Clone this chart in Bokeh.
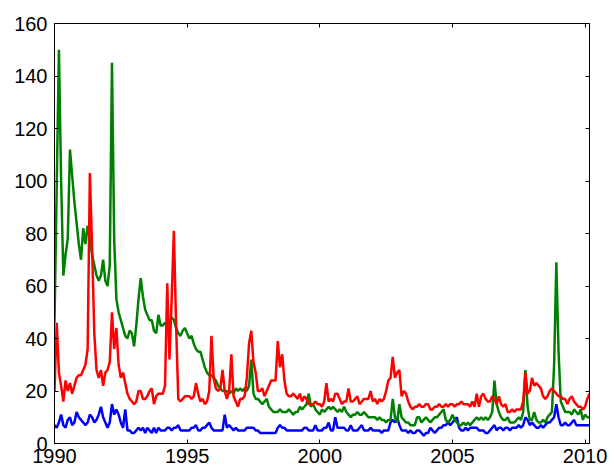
import numpy as np
import pandas as pd
from bokeh.plotting import figure
from bokeh.models import LinearAxis, FixedTicker, CustomJSTickFormatter, Range1d, ColumnDataSource
from bokeh.embed import file_html
from bokeh.resources import INLINE

# Monthly series, January 1990 .. March 2010
start_year = 1990
green_values = [
    46, 98, 150, 100, 64, 72, 78, 112, 102, 92, 84, 76,      # 1990
    70, 82, 76, 83, 78, 72, 68, 64, 62, 64, 70, 62,          # 1991
    60, 68, 145, 78, 55, 50, 47, 44, 41, 40, 43, 42,         # 1992
    37, 45, 55, 63, 56, 51, 49, 47, 47, 43, 42, 49,          # 1993
    45, 45, 46, 45, 46, 48, 47, 44, 42, 41, 43, 44,          # 1994
    42, 40, 41, 38, 36, 35, 35, 32, 29, 27, 26, 26,          # 1995
    25, 24, 22, 21, 20, 20, 20, 19, 20, 19, 21, 20,          # 1996
    21, 20, 21, 20, 22, 32, 19, 17, 17, 16, 15, 16,          # 1997
    17, 14, 13, 12, 12, 12, 13, 12, 12, 12, 13, 12,          # 1998
    11, 12, 12, 14, 13, 14, 15, 19, 14, 15, 13, 12,          # 1999
    11, 13, 12, 13, 14, 13, 14, 13, 12, 13, 12, 14,          # 2000
    12, 11, 10, 11, 11, 12, 11, 11, 12, 11, 10, 10,          # 2001
    10, 10, 9, 10, 9, 9, 8, 9, 9, 17, 10, 8,                 # 2002
    15, 10, 9, 8, 8, 7, 7, 7, 10, 10, 8, 9,                  # 2003
    10, 9, 8, 9, 10, 10, 11, 12, 13, 9, 8, 9,                # 2004
    11, 9, 8, 7, 7, 8, 7, 8, 7, 8, 9, 10,                    # 2005
    9, 10, 9, 10, 9, 10, 12, 24, 15, 12, 10, 9,              # 2006
    9, 10, 8, 8, 8, 9, 10, 9, 12, 28, 14, 9,                 # 2007
    9, 12, 9, 8, 8, 9, 8, 10, 11, 12, 30, 69,                # 2008
    35, 16, 14, 12, 12, 12, 11, 13, 12, 11, 13, 9,           # 2009
    11, 10, 10,                                              # 2010
]
red_values = [
    20, 46, 27, 22, 16, 24, 20, 23, 19, 22, 25, 26,          # 1990
    26, 28, 30, 36, 103, 75, 42, 28, 25, 28, 22, 27,         # 1991
    28, 31, 50, 36, 44, 30, 25, 27, 23, 19, 17, 16,          # 1992
    15, 16, 20, 20, 17, 17, 18, 20, 21, 15, 18, 19,          # 1993
    19, 19, 22, 61, 32, 55, 81, 45, 17, 16, 17, 18,          # 1994
    18, 18, 17, 18, 23, 19, 16, 17, 15, 16, 20, 41,          # 1995
    25, 21, 20, 21, 28, 20, 17, 20, 34, 18, 16, 14,          # 1996
    17, 17, 18, 25, 38, 43, 31, 27, 20, 20, 21, 18,          # 1997
    20, 22, 24, 24, 24, 39, 29, 34, 24, 19, 18, 18,          # 1998
    19, 18, 17, 19, 16, 18, 17, 15, 15, 15, 16, 15,          # 1999
    15, 14, 16, 23, 16, 17, 16, 19, 19, 17, 15, 16,          # 2000
    16, 21, 16, 16, 17, 18, 15, 16, 17, 17, 17, 20,          # 2001
    16, 17, 15, 17, 16, 17, 20, 24, 25, 33, 25, 27,          # 2002
    28, 18, 20, 19, 16, 14, 13, 14, 14, 15, 14, 14,          # 2003
    15, 15, 13, 13, 14, 14, 15, 14, 14, 15, 14, 15,          # 2004
    15, 14, 15, 15, 16, 15, 15, 15, 14, 16, 14, 19,          # 2005
    14, 18, 19, 17, 16, 16, 18, 17, 15, 18, 15, 14,          # 2006
    15, 12, 12, 13, 12, 13, 13, 13, 16, 27, 19, 20,          # 2007
    25, 22, 23, 22, 21, 18, 17, 18, 20, 21, 20, 19,          # 2008
    18, 18, 17, 17, 15, 17, 18, 16, 15, 14, 14, 13,          # 2009
    14, 17, 19,                                              # 2010
]
blue_values = [
    7, 6, 8, 11, 7, 6, 9, 10, 7, 8, 12, 10,                  # 1990
    9, 8, 7, 8, 11, 10, 8, 9, 11, 14, 10, 8,                 # 1991
    6, 8, 15, 11, 13, 11, 8, 6, 13, 5, 5, 4,                 # 1992
    4, 5, 6, 5, 6, 4, 6, 5, 4, 6, 4, 6,                      # 1993
    5, 5, 5, 6, 6, 5, 6, 6, 7, 5, 5, 5,                      # 1994
    5, 5, 6, 6, 7, 5, 5, 6, 6, 7, 8, 6,                      # 1995
    5, 5, 5, 5, 5, 11, 6, 7, 6, 5, 6, 5,                     # 1996
    5, 5, 5, 6, 6, 6, 6, 5, 5, 4, 4, 4,                      # 1997
    4, 4, 4, 4, 4, 6, 7, 6, 6, 5, 5, 5,                      # 1998
    5, 5, 5, 5, 5, 6, 6, 5, 5, 5, 7, 5,                      # 1999
    5, 5, 6, 6, 8, 5, 5, 10, 6, 6, 6, 6,                     # 2000
    5, 5, 7, 5, 5, 5, 6, 7, 5, 5, 5, 6,                      # 2001
    5, 5, 5, 5, 4, 5, 5, 5, 8, 9, 8, 10,                     # 2002
    7, 5, 5, 5, 4, 5, 4, 4, 5, 5, 4, 3,                      # 2003
    4, 4, 6, 5, 4, 5, 6, 6, 7, 7, 8, 7,                      # 2004
    8, 9, 10, 6, 5, 5, 6, 5, 6, 6, 6, 6,                     # 2005
    5, 5, 5, 4, 4, 5, 6, 7, 5, 6, 6, 5,                      # 2006
    6, 6, 5, 6, 6, 6, 7, 6, 7, 10, 9, 7,                     # 2007
    8, 7, 6, 6, 7, 6, 7, 8, 8, 9, 10, 15,                    # 2008
    10, 7, 7, 8, 7, 7, 8, 9, 7, 7, 7, 7,                     # 2009
    7, 7, 7,                                                 # 2010
]
x_ticks = [1990, 1995, 2000, 2005, 2010]
y_ticks = [0, 20, 40, 60, 80, 100, 120, 140, 160]

n = len(green_values)
years = [start_year + i / 12.0 for i in range(n)]
source = ColumnDataSource(data=dict(x=years, green=green_values, red=red_values, blue=blue_values))

FONT = "Liberation Sans"

p = figure(frame_width=535, frame_height=420,
           min_border_left=54, min_border_right=19, min_border_top=23, min_border_bottom=28,
           x_range=Range1d(years[0], years[-1]), y_range=Range1d(0, 160),
           output_backend="svg", toolbar_location=None,
           background_fill_color="white", border_fill_color="white")
p.xgrid.visible = False
p.ygrid.visible = False
p.outline_line_color = "black"
p.outline_line_width = 1
p.outline_line_alpha = 1.0

def style_axis(ax, ticks, show_labels):
    ax.ticker = FixedTicker(ticks=ticks)
    ax.major_tick_in = 4
    ax.major_tick_out = 0
    ax.minor_tick_in = 0
    ax.minor_tick_out = 0
    ax.axis_line_color = "black"
    ax.axis_line_width = 1
    ax.major_tick_line_color = "black"
    ax.major_tick_line_width = 1
    if show_labels:
        ax.major_label_text_font = FONT
        ax.major_label_text_font_size = "20px"
        ax.major_label_text_color = "black"
    else:
        ax.formatter = CustomJSTickFormatter(code="return ''")
        ax.major_label_text_font_size = "1px"
        ax.major_label_standoff = 0

style_axis(p.xaxis[0], x_ticks, True)
style_axis(p.yaxis[0], y_ticks, True)
p.xaxis[0].major_label_standoff = 5
p.yaxis[0].major_label_standoff = 7

top_axis = LinearAxis()
style_axis(top_axis, x_ticks, False)
p.add_layout(top_axis, "above")
right_axis = LinearAxis()
style_axis(right_axis, y_ticks, False)
p.add_layout(right_axis, "right")

p.line("x", "blue", source=source, line_color="#0000ff", line_width=2.5)
p.line("x", "green", source=source, line_color="#008000", line_width=2.5)
p.line("x", "red", source=source, line_color="#ff0000", line_width=2.5)

open("out.html", "w").write(file_html(p, INLINE))
